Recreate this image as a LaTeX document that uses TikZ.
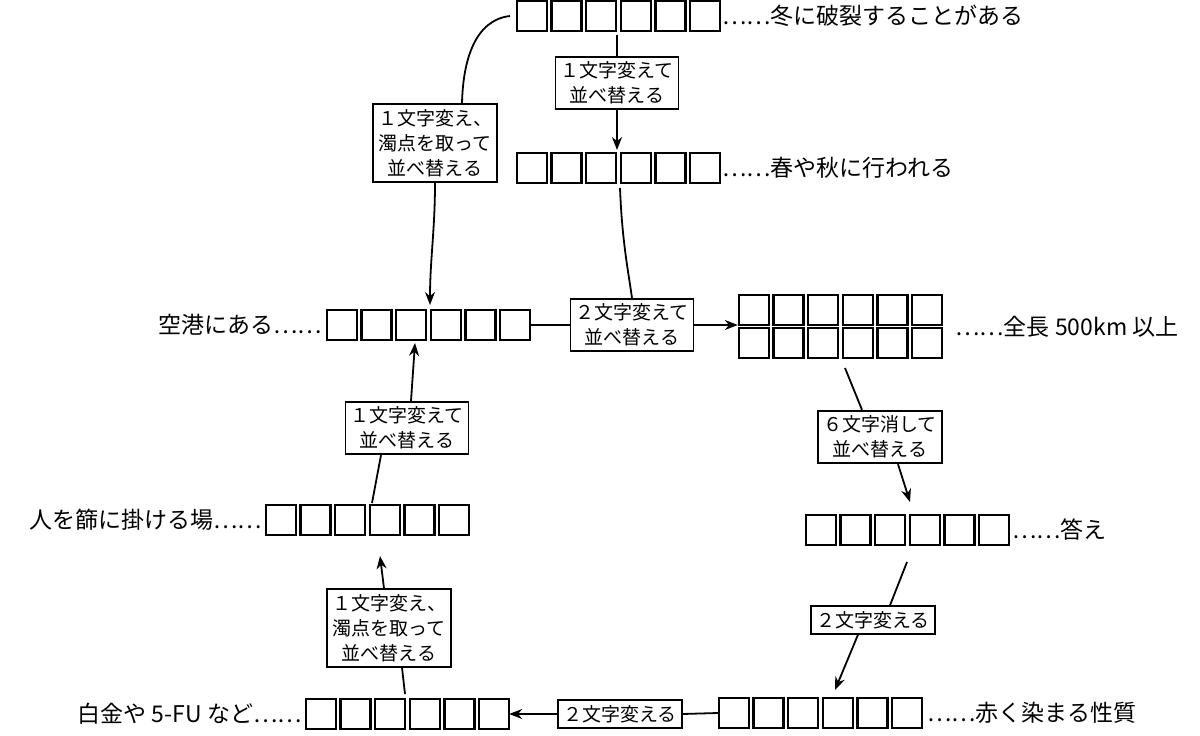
\documentclass[tikz,border=0pt]{standalone}
\usepackage{fontspec}
\setmainfont{Noto Sans CJK JP}
\usetikzlibrary{arrows.meta}
\begin{document}
\begin{tikzpicture}[x=1pt,y=-1pt,
  lbl/.style={draw,line width=1.8pt,fill=white,align=center,font=\fontsize{19}{25}\selectfont,inner sep=5pt},
  txt/.style={font=\fontsize{23}{27}\selectfont,inner sep=0pt},
  row/.style={minimum width=204pt,minimum height=32pt,inner sep=0pt},
  ln/.style={line width=1.8pt},
  ar/.style={line width=1.8pt,-{Stealth[length=13pt,width=10pt]}}]
\useasboundingbox (0,0) rectangle (1200,736);
\newcommand{\sqrow}[1]{\foreach \i in {0,...,5}{\draw[line width=2.4pt] ([xshift=\i*34.6pt+1.2pt,yshift=-15pt]#1.west) rectangle ++(30pt,30pt);}}
% rows
\node[row] (r1) at (618,16) {}; \sqrow{r1}
\node[txt,anchor=west] (t1) at (722,16) {……冬に破裂することがある};
\node[row] (r2) at (618,168) {}; \sqrow{r2}
\node[txt,anchor=west] (t2) at (722,168) {……春や秋に行われる};
\node[row] (r3) at (428,325) {}; \sqrow{r3}
\node[txt,anchor=east] (t3) at (322,325) {空港にある……};
\node[row] (r4a) at (840,310) {}; \sqrow{r4a}
\node[row] (r4b) at (840,343) {}; \sqrow{r4b}
\node[txt,anchor=west] (t4) at (955,327) {……全長 500km 以上};
\node[row] (r5) at (907,530) {}; \sqrow{r5}
\node[txt,anchor=west] (t5) at (1012,530) {……答え};
\node[row] (r6) at (820,713) {}; \sqrow{r6}
\node[txt,anchor=west] (t6) at (927,713) {……赤く染まる性質};
\node[row] (r7) at (407,714) {}; \sqrow{r7}
\node[txt,anchor=east] (t7) at (302,714) {白金や 5-FU など……};
\node[row] (r8) at (367,520) {}; \sqrow{r8}
\node[txt,anchor=east] (t8) at (262,520) {人を篩に掛ける場……};
% labels
\node[lbl] (b1) at (617,83) {１文字変えて\\並べ替える};
\node[lbl] (b2) at (435,143) {１文字変え、\\濁点を取って\\並べ替える};
\node[lbl] (b3) at (632,325) {２文字変えて\\並べ替える};
\node[lbl] (b4) at (880,437) {６文字消して\\並べ替える};
\node[lbl] (b5) at (873,620) {２文字変える};
\node[lbl] (b6) at (620,714) {２文字変える};
\node[lbl] (b7) at (389,628) {１文字変え、\\濁点を取って\\並べ替える};
\node[lbl] (b8) at (407,428) {１文字変えて\\並べ替える};
% connectors
\coordinate (c1) at (617,35); \coordinate (c2) at (617,150);
\draw[ln] (c1) -- (b1.north); \draw[ar] (b1.south) -- (c2);
\coordinate (c3) at (510,16); \coordinate (c4) at (430,305);
\draw[ln] (c3) .. controls (475,20) and (463,60) .. (b2.north -| 462,0);
\draw[ar] (b2.south) .. controls (435,230) and (430,260) .. (c4);
\coordinate (c5) at (620,188);
\draw[ln] (c5) .. controls (622,240) and (628,270) .. (b3.north);
\draw[ln] (r3.east) -- (b3.west);
\draw[ar] (b3.east) -- (r4a.west |- b3.east);
\coordinate (c6) at (845,368); \coordinate (c7) at (910,502);
\draw[ln] (c6) -- (b4.north -| 862,0); \draw[ar] (b4.south -| 898,0) -- (c7);
\coordinate (c8) at (907,562); \coordinate (c9) at (835,690);
\draw[ln] (c8) -- (b5.north -| 890,0); \draw[ar] (b5.south -| 858,0) -- (c9);
\draw[ln] (r6.west) -- (b6.east); \draw[ar] (b6.west) -- (r7.east);
\coordinate (c10) at (405,694); \coordinate (c11) at (380,556);
\draw[ln] (c10) -- (b7.south -| 402,0); \draw[ar] (b7.north -| 384,0) -- (c11);
\coordinate (c12) at (372,503); \coordinate (c13) at (415,343);
\draw[ln] (c12) -- (b8.south -| 381,0); \draw[ar] (b8.north -| 411,0) -- (c13);
\end{tikzpicture}
\end{document}
